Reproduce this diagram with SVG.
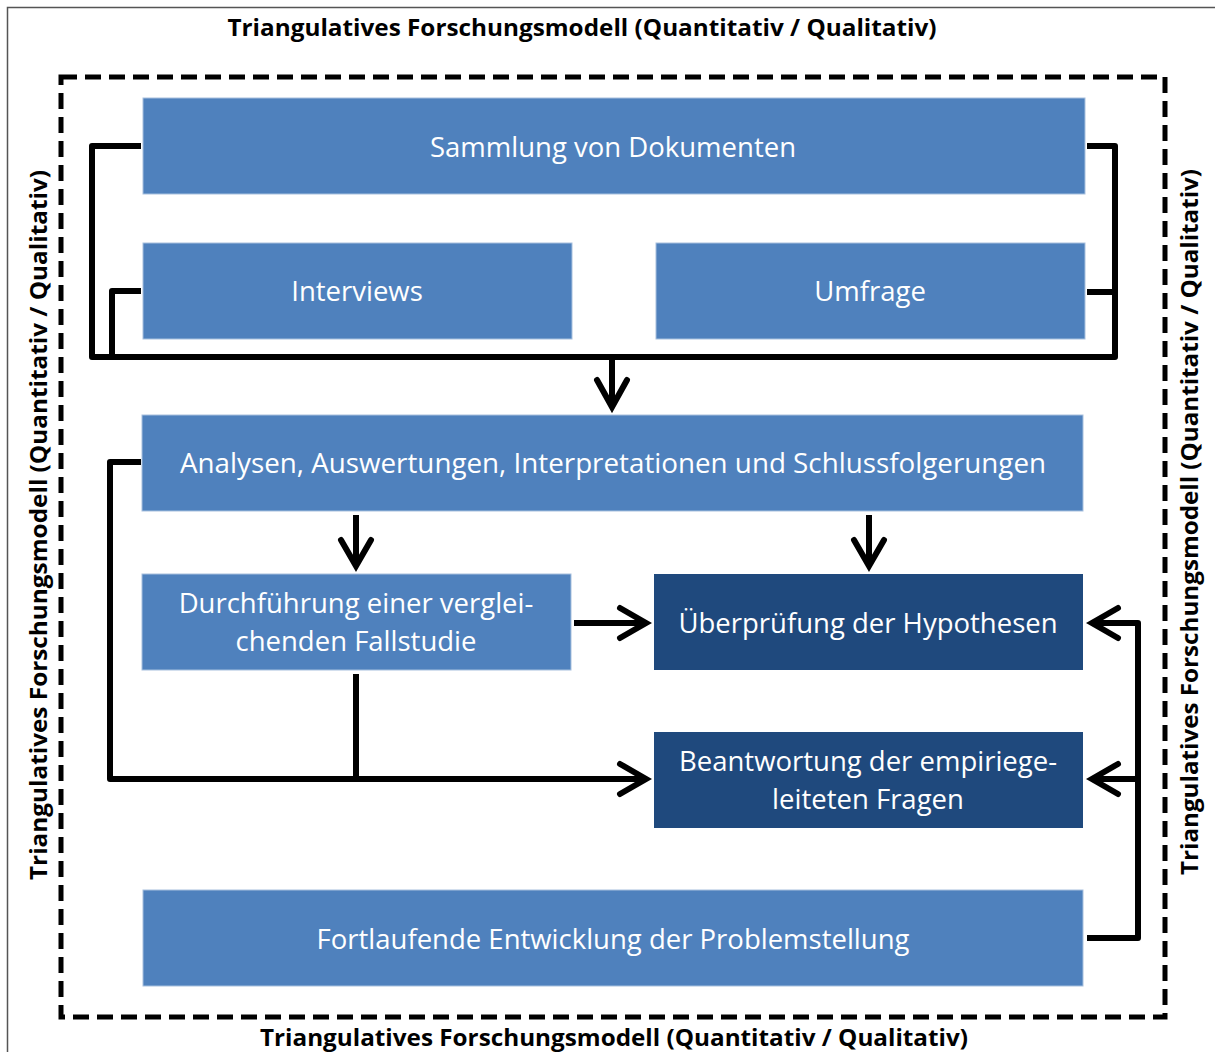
<svg xmlns="http://www.w3.org/2000/svg" width="1215" height="1052" viewBox="0 0 1215 1052">
<style>
.title{font-family:"Open Sans","Liberation Sans",sans-serif;font-weight:bold;font-size:23px;fill:#000}
.lt{fill:#4F81BD;stroke:#A7C0DE;stroke-width:1}
.dk{fill:#1F497D}
.t{font-family:"Open Sans","Liberation Sans",sans-serif;font-size:27.5px;fill:#fff;text-anchor:middle}
.c{fill:none;stroke:#000;stroke-width:6;stroke-linejoin:round}
.ah{fill:none;stroke:#000;stroke-width:6;stroke-linecap:round;stroke-linejoin:miter}
</style>
<rect x="0" y="0" width="1215" height="1052" fill="#fff"/>
<path d="M7.5 1052 V7.5 H1215" fill="none" stroke="#555" stroke-width="1.5"/>
<rect x="61" y="77" width="1104" height="940" fill="none" stroke="#000" stroke-width="5" stroke-dasharray="16,8"/>
<text class="title" x="582" y="36" text-anchor="middle" textLength="709" lengthAdjust="spacingAndGlyphs">Triangulatives Forschungsmodell (Quantitativ / Qualitativ)</text>
<text class="title" x="614" y="1046" text-anchor="middle" textLength="708" lengthAdjust="spacingAndGlyphs">Triangulatives Forschungsmodell (Quantitativ / Qualitativ)</text>
<text class="title" transform="translate(47,525) rotate(-90)" text-anchor="middle" textLength="710" lengthAdjust="spacingAndGlyphs">Triangulatives Forschungsmodell (Quantitativ / Qualitativ)</text>
<text class="title" transform="translate(1198,522) rotate(-90)" text-anchor="middle" textLength="706" lengthAdjust="spacingAndGlyphs">Triangulatives Forschungsmodell (Quantitativ / Qualitativ)</text>
<g id="connectors">
<path class="c" d="M141 146 H92 V357 H1115 V146 H1087"/>
<path class="c" d="M141 291 H112 V357"/>
<path class="c" d="M1087 292 H1115"/>
<path class="c" d="M612 357 V408"/>
<path class="ah" d="M597 380 L612 407 L627 380"/>
<path class="c" d="M356 515 V566"/>
<path class="ah" d="M341 540 L356 566 L371 540"/>
<path class="c" d="M869 515 V566"/>
<path class="ah" d="M854 540 L869 566 L884 540"/>
<path class="c" d="M574 623 H646"/>
<path class="ah" d="M620 608 L646 623 L620 638"/>
<path class="c" d="M141 462 H110 V779 H646"/>
<path class="c" d="M356 674 V779"/>
<path class="ah" d="M620 764 L646 779 L620 794"/>
<path class="c" d="M1087 938 H1138 V623 H1092"/>
<path class="c" d="M1138 779 H1092"/>
<path class="ah" d="M1118 608 L1092 623 L1118 638"/>
<path class="ah" d="M1118 764 L1092 779 L1118 794"/>
</g>
<g id="sammlung"><rect class="lt" x="143" y="98" width="942" height="96"/><text class="t" x="613" y="157">Sammlung von Dokumenten</text></g>
<g id="interviews"><rect class="lt" x="143" y="243" width="429" height="96"/><text class="t" x="357" y="301">Interviews</text></g>
<g id="umfrage"><rect class="lt" x="656" y="243" width="429" height="96"/><text class="t" x="870" y="301">Umfrage</text></g>
<g id="analysen"><rect class="lt" x="142" y="415" width="941" height="96"/><text class="t" x="613" y="473" textLength="866" lengthAdjust="spacingAndGlyphs">Analysen, Auswertungen, Interpretationen und Schlussfolgerungen</text></g>
<g id="durchfuehrung"><rect class="lt" x="142" y="574" width="429" height="96"/><text class="t" x="356" y="613">Durchführung einer verglei-</text><text class="t" x="356" y="651">chenden Fallstudie</text></g>
<g id="ueberpruefung"><rect class="dk" x="654" y="574" width="429" height="96"/><text class="t" x="868" y="633">Überprüfung der Hypothesen</text></g>
<g id="beantwortung"><rect class="dk" x="654" y="732" width="429" height="96"/><text class="t" x="868" y="771">Beantwortung der empiriege-</text><text class="t" x="868" y="809">leiteten Fragen</text></g>
<g id="fortlaufende"><rect class="lt" x="143" y="890" width="940" height="96"/><text class="t" x="613" y="949">Fortlaufende Entwicklung der Problemstellung</text></g>
</svg>
